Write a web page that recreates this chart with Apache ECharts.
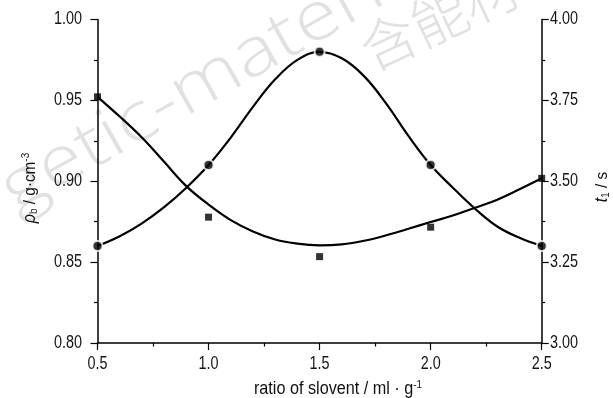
<!DOCTYPE html>
<html><head><meta charset="utf-8">
<script src="https://cdn.jsdelivr.net/npm/echarts@6/dist/echarts.min.js"></script>
<style>html,body{margin:0;padding:0;background:#fff}#c{width:613px;height:398px}</style>
</head><body><div id="c"></div>
<script>
// measured data
var ratio = [0.5, 1.0, 1.5, 2.0, 2.5];
var density = [0.86, 0.91, 0.98, 0.91, 0.86];          // rho_b (g/cm3), circles, left axis
var time1 = [3.761, 3.389, 3.267, 3.358, 3.509];       // t1 (s), squares, right axis
// fitted curves
var fitX = [0.5,0.6,0.7,0.8,0.9,1.0,1.1,1.2,1.3,1.4,1.5,1.6,1.7,1.8,1.9,2.0,2.1,2.2,2.3,2.4,2.5];
var densityFit = [0.860,0.866,0.874,0.884,0.896,0.910,0.927,0.946,0.963,0.975,0.980,0.976,0.965,0.948,0.928,0.910,0.896,0.883,0.872,0.865,0.860];
var timeFit = [3.761,3.700,3.635,3.560,3.485,3.428,3.380,3.345,3.320,3.307,3.302,3.305,3.316,3.333,3.353,3.374,3.394,3.418,3.443,3.475,3.509];
// tick labels
var xTickLabels = ['0.5','1.0','1.5','2.0','2.5'];
var leftTickLabels = ['0.80','0.85','0.90','0.95','1.00'];
var rightTickLabels = ['3.00','3.25','3.50','3.75','4.00'];

function pairs(xs, ys){ return xs.map(function(x,i){return [x, ys[i]];}); }
var FONT = '"Liberation Sans",Arial,sans-serif';
var chart = echarts.init(document.getElementById('c'), null, {renderer:'canvas'});
var axisCommon = {
  axisLine:{show:true, lineStyle:{color:'#000', width:1.5}},
  axisTick:{show:true, inside:false, length:7, lineStyle:{color:'#000', width:1.2}},
  minorTick:{show:true, splitNumber:2, length:3.5, lineStyle:{color:'#000', width:1.2}},
  splitLine:{show:false},
  axisLabel:{show:false}
};
chart.setOption({
  animation:false,
  backgroundColor:'#fff',
  grid:{left:97.5, right:71.3, top:19.5, bottom:55, containLabel:false},
  xAxis:Object.assign({}, axisCommon, {type:'value', min:+xTickLabels[0], max:+xTickLabels[4], interval:0.5}),
  yAxis:[
    Object.assign({}, axisCommon, {type:'value', position:'left', min:+leftTickLabels[0], max:+leftTickLabels[4], interval:0.05}),
    Object.assign({}, axisCommon, {type:'value', position:'right', min:+rightTickLabels[0], max:+rightTickLabels[4], interval:0.25})
  ],
  series:[
    {type:'line', yAxisIndex:0, data:pairs(fitX, densityFit), smooth:0.4, showSymbol:false, lineStyle:{color:'#000', width:2.2}, z:2},
    {type:'line', yAxisIndex:1, data:pairs(fitX, timeFit), smooth:0.4, showSymbol:false, lineStyle:{color:'#000', width:2.2}, z:2},
    {type:'scatter', yAxisIndex:0, data:pairs(ratio, density), symbol:'circle', symbolSize:10,
      itemStyle:{color:'#000', borderColor:'#fff', borderWidth:2}, z:5},
    {type:'scatter', yAxisIndex:1, data:pairs(ratio, time1), symbol:'rect', symbolSize:7,
      itemStyle:{color:'#000'}, z:5}
  ]
});

var SX = 0.8;
var g = [];
var DEG = Math.PI/180;
// faint watermark
g.push({type:'text', x:6, y:196, rotation:29.5*DEG, scaleX:1.18, z:-10, silent:true,
  style:{text:'getic-materials', fill:'#e1e1e1', font:'300 68px "Open Sans", "Liberation Sans", sans-serif', align:'left', verticalAlign:'middle'}});
g.push({type:'text', x:363, y:53, rotation:25*DEG, z:-10, silent:true,
  style:{text:'含能材料', fill:'#e1e1e1', font:'300 56px "Noto Sans CJK SC", sans-serif', align:'left', verticalAlign:'middle'}});
// narrow tick labels placed through the chart's own scales
var lblStyle = function(t, align){ return {text:t, fill:'#151515', font:'18px ' + FONT, align:align, verticalAlign:'middle'}; };
xTickLabels.forEach(function(t){
  var p = chart.convertToPixel({xAxisIndex:0}, +t);
  g.push({type:'text', x:p, y:364, scaleX:SX, z:10, style:lblStyle(t,'center')});
});
leftTickLabels.forEach(function(t){
  var p = chart.convertToPixel({yAxisIndex:0}, +t);
  g.push({type:'text', x:82, y:p, scaleX:SX, z:10, style:lblStyle(t,'right')});
});
rightTickLabels.forEach(function(t){
  var p = chart.convertToPixel({yAxisIndex:1}, +t);
  g.push({type:'text', x:550, y:p, scaleX:SX, z:10, style:lblStyle(t,'left')});
});
// axis names
g.push({type:'text', x:30, y:188, rotation:Math.PI/2, scaleX:0.9, z:10,
  style:{text:'{i|ρ}{sub|b}{n| / g·cm}{sup|-3}', align:'center', verticalAlign:'middle',
    rich:{i:{fontFamily:FONT, fontStyle:'italic', fontSize:18, fill:'#111'},
          sub:{fontFamily:FONT, fontSize:11, padding:[7,0,0,0], fill:'#111'},
          n:{fontFamily:FONT, fontSize:17, fill:'#111'},
          sup:{fontFamily:FONT, fontSize:11, padding:[0,0,9,0], fill:'#111'}}}});
g.push({type:'text', x:602, y:187, rotation:Math.PI/2, scaleX:0.9, z:10,
  style:{text:'{i|t}{sub|1}{n| / s}', align:'center', verticalAlign:'middle',
    rich:{i:{fontFamily:FONT, fontStyle:'italic', fontSize:18, fill:'#111'},
          sub:{fontFamily:FONT, fontSize:11, padding:[7,0,0,0], fill:'#111'},
          n:{fontFamily:FONT, fontSize:17, fill:'#111'}}}});
g.push({type:'text', x:338, y:389, scaleX:0.9, z:10,
  style:{text:'{n|ratio of slovent / ml · g}{sup|-1}', align:'center', verticalAlign:'middle',
    rich:{n:{fontFamily:FONT, fontSize:18, fill:'#111'},
          sup:{fontFamily:FONT, fontSize:11, padding:[0,0,9,0], fill:'#111'}}}});
chart.setOption({graphic:g});
</script></body></html>
